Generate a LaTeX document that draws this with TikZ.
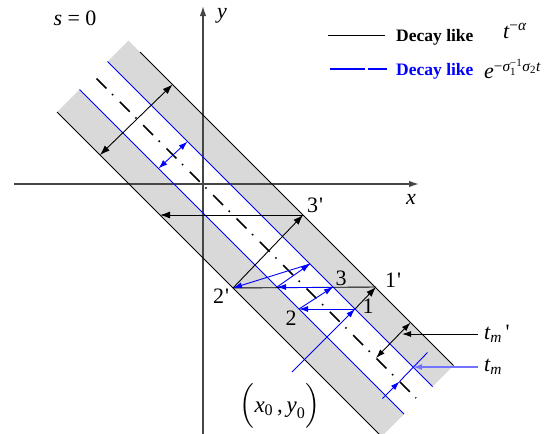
\documentclass[tikz,border=0pt]{standalone}
\usepackage{fontspec}
\setmainfont{Liberation Serif}
\usepackage{amsmath}
\usetikzlibrary{arrows.meta}
\newcommand{\mi}[1]{\text{\itshape #1}}
\newcommand{\pr}{\kern1pt\textquotesingle}
\definecolor{bandgray}{RGB}{217,217,217}
\definecolor{axgray}{RGB}{70,70,70}
\begin{document}
\begin{tikzpicture}[x=1pt,y=-1pt,
  ax/.style={line width=1.4pt, draw=axgray, -{Latex[length=10pt,width=6.5pt]}},
  bk/.style={line width=0.9pt, black},
  bl/.style={line width=0.9pt, blue},
  arr/.style={-{Latex[length=10pt,width=7pt]}},
  darr/.style={{Latex[length=10pt,width=7pt]}-{Latex[length=10pt,width=7pt]}},
  sarr/.style={-{Latex[length=9pt,width=6pt]}},
  sdarr/.style={{Latex[length=9pt,width=6pt]}-{Latex[length=9pt,width=6pt]}},
  lbl/.style={font=\fontsize{22}{22}\selectfont, inner sep=0pt},
  leg/.style={font=\bfseries\fontsize{17.5}{17.5}\selectfont, inner sep=0pt, anchor=west},
  cen/.style={line width=1.6pt, dash pattern=on 14pt off 8pt on 1.5pt off 9.5pt},
]
\useasboundingbox (0,0) rectangle (544,434);
\begin{scope}
\clip (0,0) rectangle (544,434);
% gray strips
\fill[bandgray] (107.5,61.5) -- (128.5,40.5) -- (453.5,365.5) -- (432.5,386.5) -- cycle;
\fill[bandgray] (57,112) -- (79.5,89.5) -- (404,414) -- (381.5,436.5) -- cycle;
% axes
\coordinate (xs) at (14,184);
\coordinate (xe) at (419,184);
\coordinate (ys) at (203,434);
\coordinate (ye) at (203,6);
\draw[ax] (xs) -- (xe);
\draw[ax] (ys) -- (ye);
% band lines
\coordinate (ubk1) at (140,52);   \coordinate (ubk2) at (453.5,365.5);
\coordinate (ubl1) at (107.5,61.5); \coordinate (ubl2) at (432.5,386.5);
\coordinate (cl1) at (96.5,78.5); \coordinate (cl2) at (416,398);
\coordinate (lbl1) at (79.5,89.5); \coordinate (lbl2) at (404,414);
\coordinate (lbk1) at (57,112);   \coordinate (lbk2) at (381.5,436.5);
\draw[bk] (ubk1) -- (ubk2);
\draw[bk] (lbk1) -- (lbk2);
\draw[bl] (ubl1) -- (ubl2);
\draw[bl] (lbl1) -- (lbl2);
\draw[cen] (cl1) -- (cl2);
\end{scope}
% width arrows upper-left
\coordinate (wa) at (100,155); \coordinate (wb) at (172.5,84.5);
\draw[bk,darr] (wa) -- (wb);
\coordinate (va) at (158.5,168.5); \coordinate (vb) at (187.5,141.5);
\draw[bl,sdarr] (va) -- (vb);
% reflection points
\coordinate (x0) at (292,372);
\coordinate (p1) at (355,309);
\coordinate (p2) at (299,309);
\coordinate (p3) at (333,287);
\coordinate (p4) at (277,287);
\coordinate (p5) at (310,264);
\coordinate (q2) at (233,288);
\coordinate (q1) at (376,287);
\coordinate (q3) at (303,215);
\coordinate (q4) at (160,215);
% black path
\draw[bk,arr] (p1) -- (q1);
\draw[bk] (q1) -- (q2);
\draw[bk,arr] (q2) -- (q3);
\draw[bk,arr] (q3) -- (q4);
% blue path
\draw[bl,sarr] (x0) -- (p1);
\draw[bl,sarr] (p1) -- (p2);
\draw[bl,sarr] (p2) -- (p3);
\draw[bl,sarr] (p3) -- (p4);
\draw[bl,sarr] (p4) -- (p5);
\draw[bl,sarr] (p5) -- (q2);
% t_m' dimension
\coordinate (ta) at (376,358); \coordinate (tb) at (410.5,322.5);
\draw[bk,sdarr] (ta) -- (tb);
\coordinate (tl1) at (478,334); \coordinate (tl2) at (402,334);
\draw[bk,sarr] (tl1) -- (tl2);
% t_m dimension
\coordinate (sa) at (382.5,398.5); \coordinate (sm) at (399.5,381.5); \coordinate (sb) at (427.5,352.5);
\draw[bl] (sm) -- (sb);
\draw[bl,sarr] (sa) -- (sm);
\coordinate (sl1) at (478,367); \coordinate (sl2) at (413,367);
\draw[line width=1.4pt, blue!55, sarr] (sl1) -- (sl2);
% labels
\node[lbl] (n1p) at (393,280) {1\pr};
\node[lbl] (n3) at (341,278) {3};
\node[lbl] (n1) at (368,306) {1};
\node[lbl] (n2) at (291,318) {2};
\node[lbl] (n2p) at (221,296) {2\pr};
\node[lbl] (n3p) at (315,205) {3\pr};
\node[lbl] (nx) at (411,199) {\itshape x};
\node[lbl] (ny) at (222,16) {\itshape y};
\node[lbl] (ns) at (75,18) {$\mi{s}\text{ = 0}$};
\node[lbl, anchor=west] (ntm1) at (484,334) {$\mi{t}_{\mi{m}}\text{\,\textquotesingle}$};
\node[lbl, anchor=west] (ntm) at (484,367) {$\mi{t}_{\mi{m}}$};
\node[lbl, font=\fontsize{23}{23}\selectfont] (nx0) at (280,406) {$\Bigl(\mi{x}_{\text{0}}\text{\,,\,}\mi{y}_{\text{0}}\Bigr)$};
% legend
\coordinate (lg1) at (328,35); \coordinate (lg2) at (385,35);
\draw[line width=1pt] (lg1) -- (lg2);
\node[leg] (lt1) at (396,37) {Decay like};
\node[lbl, anchor=west] (lf1) at (503,31) {$\mi{t}^{\text{−}\mi{α}}$};
\coordinate (lg3) at (330,69); \coordinate (lg4) at (387,69);
\draw[line width=1.2pt, draw=blue, dash pattern=on 35pt off 3pt] (lg3) -- (lg4);
\node[leg, text=blue] (lt2) at (396,71) {Decay like};
\node[lbl, anchor=west] (lf2) at (484,69) {$\mi{e}^{\text{−}\mi{σ}_{\text{1}}^{\text{−1}}\mi{σ}_{\text{2}}\mi{t}}$};
\end{tikzpicture}
\end{document}
